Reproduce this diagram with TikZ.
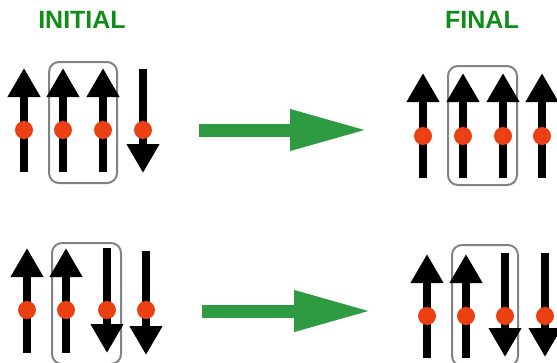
\documentclass[tikz,border=0pt]{standalone}
\usepackage{fontspec}
\setmainfont{Liberation Sans}
\usetikzlibrary{arrows.meta}
\definecolor{titlegreen}{RGB}{16,140,24}
\definecolor{flowgreen}{RGB}{46,155,66}
\definecolor{spinred}{RGB}{234,64,20}
\definecolor{boxgray}{RGB}{128,130,134}
\begin{document}
\begin{tikzpicture}[x=1pt,y=-1pt,
                    spin/.style={-{Triangle[length=29pt,width=31pt]},line width=8pt,black},
                    dot/.style={circle,fill=spinred,minimum size=18pt,inner sep=0pt},
                    pairbox/.style={draw=boxgray,line width=2pt,rounded corners=10pt},
                    flow/.style={-{Triangle[length=78pt,width=38pt]},line width=13pt,flowgreen},
                    title/.style={font=\fontsize{25}{30}\selectfont\bfseries,text=titlegreen}]
\useasboundingbox (0,0) rectangle (557,362);

\node[title] (initial) at (82,20) {INITIAL};
\node[title] (final) at (482,20) {FINAL};

\draw[pairbox] (49,62) rectangle (117,183);
\draw[pairbox] (448,66) rectangle (517,185);
\draw[pairbox] (52,243) rectangle (121,364);
\draw[pairbox] (452,245) rectangle (518,366);

\coordinate (a1t) at (24,68);  \coordinate (a1b) at (24,172);
\coordinate (a2t) at (63,68);  \coordinate (a2b) at (63,172);
\coordinate (a3t) at (103,68); \coordinate (a3b) at (103,172);
\coordinate (a4t) at (143,69); \coordinate (a4b) at (143,173);

\coordinate (b1t) at (423,73); \coordinate (b1b) at (423,178);
\coordinate (b2t) at (463,73); \coordinate (b2b) at (463,178);
\coordinate (b3t) at (503,73); \coordinate (b3b) at (503,178);
\coordinate (b4t) at (542,73); \coordinate (b4b) at (542,178);

\coordinate (c1t) at (27,248);  \coordinate (c1b) at (27,353);
\coordinate (c2t) at (66,248);  \coordinate (c2b) at (66,353);
\coordinate (c3t) at (107,248); \coordinate (c3b) at (107,353);
\coordinate (c4t) at (146,251); \coordinate (c4b) at (146,355);

\coordinate (d1t) at (427,254); \coordinate (d1b) at (427,358);
\coordinate (d2t) at (466,254); \coordinate (d2b) at (466,358);
\coordinate (d3t) at (505,253); \coordinate (d3b) at (505,357);
\coordinate (d4t) at (545,253); \coordinate (d4b) at (545,357);

\draw[spin] (a1b) to (a1t);
\draw[spin] (a2b) to (a2t);
\draw[spin] (a3b) to (a3t);
\draw[spin] (a4t) to (a4b);

\draw[spin] (b1b) to (b1t);
\draw[spin] (b2b) to (b2t);
\draw[spin] (b3b) to (b3t);
\draw[spin] (b4b) to (b4t);

\draw[spin] (c1b) to (c1t);
\draw[spin] (c2b) to (c2t);
\draw[spin] (c3t) to (c3b);
\draw[spin] (c4t) to (c4b);

\draw[spin] (d1b) to (d1t);
\draw[spin] (d2b) to (d2t);
\draw[spin] (d3t) to (d3b);
\draw[spin] (d4t) to (d4b);

\node[dot] (a1) at (24,130) {};
\node[dot] (a2) at (63,130) {};
\node[dot] (a3) at (103,130) {};
\node[dot] (a4) at (143,130) {};

\node[dot] (b1) at (423,136) {};
\node[dot] (b2) at (463,136) {};
\node[dot] (b3) at (503,136) {};
\node[dot] (b4) at (542,136) {};

\node[dot] (c1) at (27,310) {};
\node[dot] (c2) at (66,310) {};
\node[dot] (c3) at (107,310) {};
\node[dot] (c4) at (146,310) {};

\node[dot] (d1) at (427,316) {};
\node[dot] (d2) at (466,316) {};
\node[dot] (d3) at (505,316) {};
\node[dot] (d4) at (545,316) {};

\coordinate (f1s) at (199,130); \coordinate (f1e) at (368,130);
\coordinate (f2s) at (202,311); \coordinate (f2e) at (372,311);
\draw[flow] (f1s) to (f1e);
\draw[flow] (f2s) to (f2e);

\end{tikzpicture}
\end{document}
